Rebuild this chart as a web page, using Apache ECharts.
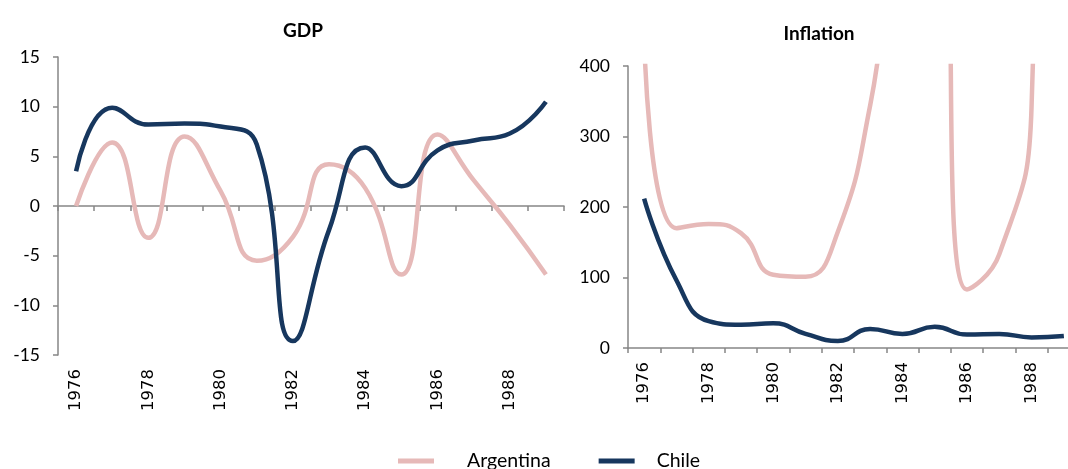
<!DOCTYPE html>
<html><head><meta charset="utf-8">
<script src="https://cdn.jsdelivr.net/npm/echarts@6/dist/echarts.min.js"></script>
<style>html,body{margin:0;padding:0;background:#fff;overflow:hidden;width:1068px;height:469px}#c{width:1100px;height:469px}</style>
</head><body><div id="c"></div>
<script>
const years = ['1976','1977','1978','1979','1980','1981','1982','1983','1984','1985','1986','1987','1988','1989'];
const gdpArgentina = [0.0, 6.4, -3.2, 7.0, 1.5, -5.5, -3.1, 4.2, 1.8, -6.9, 7.2, 2.6, -1.9, -6.9];
const gdpChile = [3.5, 9.9, 8.2, 8.3, 8.0, 6.2, -13.6, -2.4, 5.9, 2.0, 5.6, 6.6, 7.3, 10.5];
const inflArgentina = [444, 170, 176, 163, 104, 101, 165, 344, 627, 672, 83, 133, 343, 3080];
const inflChile = [212, 96, 38, 33, 35, 20, 10, 27, 20, 30, 19, 20, 15, 17];
const gdpTicks = {min: -15, max: 15, interval: 5};
const inflTicks = {min: 0, max: 400, interval: 100};

const FONT = 'Lato';
const XFONT = 'DejaVu Sans';
const axisGray = '#868686';
const pink = '#E6B9B8';
const navy = '#17375E';

function xLine(gridIndex, onZero) {
  return {type:'category', gridIndex, data: years, boundaryGap: true,
    axisLine:{show:true, onZero: onZero, lineStyle:{color:axisGray, width:1.5}},
    axisTick:{show:true, interval:0, length:5, lineStyle:{color:axisGray, width:1.5}},
    axisLabel:{show:false}, splitLine:{show:false}};
}
function xLabels(gridIndex, margin) {
  return {type:'category', gridIndex, data: years, boundaryGap: true, position:'bottom',
    axisLine:{show:false, onZero:false}, axisTick:{show:false},
    axisLabel:{show:true, interval:1, rotate:90, color:'#000', fontFamily:XFONT, fontSize:16.5, margin: margin},
    splitLine:{show:false}};
}
function yAx(gridIndex, t) {
  return {type:'value', gridIndex, min:t.min, max:t.max, interval:t.interval,
    axisLine:{show:true, lineStyle:{color:axisGray, width:1.5}},
    axisTick:{show:true, length:5, lineStyle:{color:axisGray, width:1.5}},
    axisLabel:{color:'#000', fontFamily:FONT, fontSize:17.5, margin:18},
    splitLine:{show:false}};
}
function ser(name, x, y, data, color) {
  return {name, type:'line', xAxisIndex:x, yAxisIndex:y, data, smooth:0.5, showSymbol:false,
    symbol:'none', clip:true, lineStyle:{color, width:4.5}, itemStyle:{color}, z: name==='Chile'?3:2};
}

const chart = echarts.init(document.getElementById('c'), null, {renderer:'canvas'});
chart.setOption({
  animation:false,
  textStyle:{fontFamily:FONT},
  title:[
    {text:'GDP', left:298, top:16, textAlign:'center', textStyle:{fontFamily:FONT, fontSize:19, fontWeight:'bold', color:'#000'}},
    {text:'Inflation', left:814, top:19, textAlign:'center', textStyle:{fontFamily:FONT, fontSize:19, fontWeight:'bold', color:'#000'}}
  ],
  grid:[
    {left:58, top:57, width:506, height:298, containLabel:false},
    {left:628, top:66, width:452, height:282, containLabel:false}
  ],
  xAxis:[xLine(0,true), xLabels(0,14), xLine(1,false), xLabels(1,14)],
  yAxis:[yAx(0,gdpTicks), yAx(1,inflTicks)],
  legend:{left:393, top:446, icon:'rect', itemWidth:36, itemHeight:5, itemGap:48,
    textStyle:{fontFamily:FONT, fontSize:19.5, color:'#000'},
    data:[
      {name:'Argentina', textStyle:{padding:[0,0,0,28]}},
      {name:'Chile', textStyle:{padding:[0,0,0,17]}}
    ]},
  series:[
    ser('Argentina',0,0,gdpArgentina,pink),
    ser('Chile',0,0,gdpChile,navy),
    ser('Argentina',2,1,inflArgentina,pink),
    ser('Chile',2,1,inflChile,navy)
  ]
});
</script></body></html>
